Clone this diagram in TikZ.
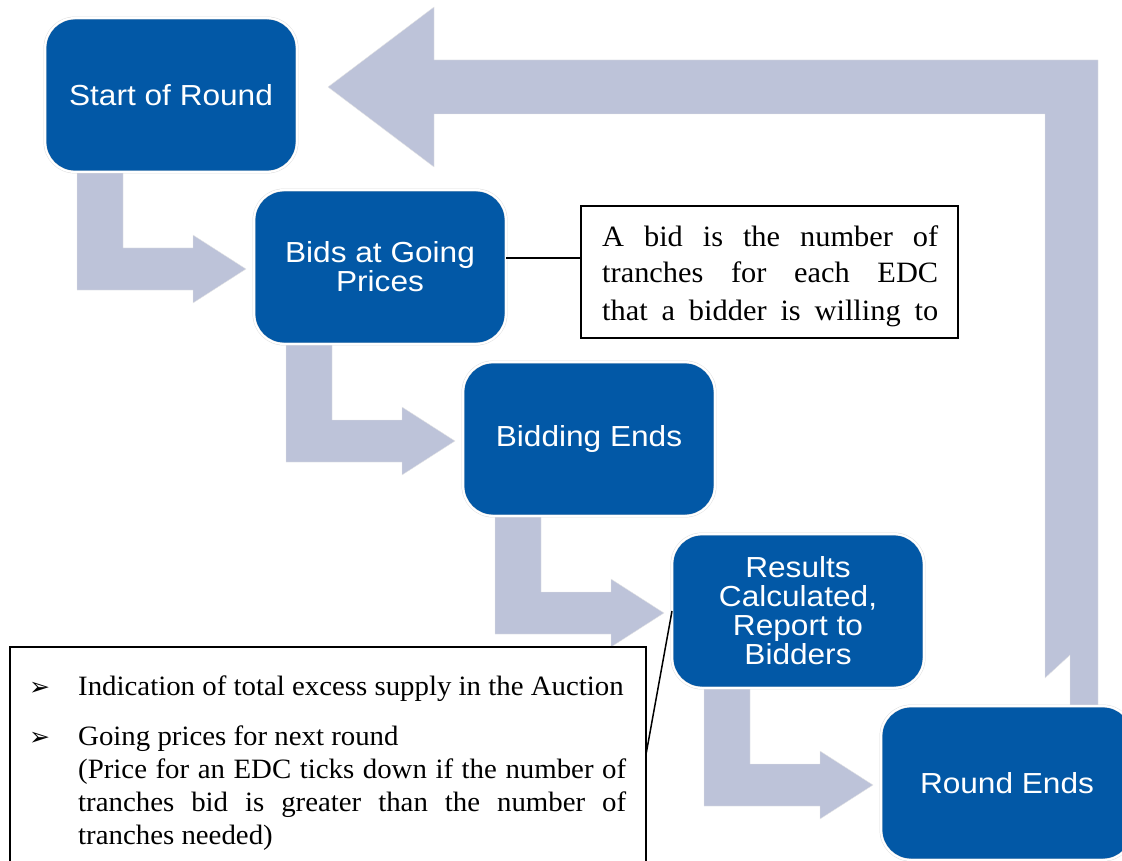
\documentclass[tikz,border=0pt]{standalone}
\usepackage{fontspec}
\setmainfont{Liberation Serif}[FakeStretch=1.03]
\newfontfamily\boxfont{Liberation Sans}[FakeStretch=1.09]
\newfontfamily\symfont{DejaVu Sans}
\usetikzlibrary{backgrounds}
\definecolor{stepblue}{RGB}{2,88,166}
\definecolor{flowgray}{RGB}{189,195,217}
\newcommand{\Bend}[1]{\fill[flowgray,draw=black!10,shift={(#1.south west)}] (32,-2) -- (32,118) -- (148,118) -- (148,131) -- (201,97) -- (148,63) -- (148,76) -- (78,76) -- (78,-2) -- cycle;}
\tikzset{
    stepbox/.style={rectangle,rounded corners=30pt,fill=stepblue,draw=black!15,double=white,double distance=2pt,
        minimum width=252pt,minimum height=154pt,inner sep=0pt,outer sep=0pt,text=white,align=center,
        font=\boxfont\fontsize{29}{29}\selectfont},
    notebox/.style={rectangle,draw=black,line width=1.5pt,inner sep=0pt,outer sep=0pt},
    noteline/.style={anchor=base west,inner sep=0pt,font=\fontsize{28}{33}\selectfont},
    connector/.style={draw=black,line width=1.5pt}
}

\begin{document}
\begin{tikzpicture}[x=1pt,y=-1pt]
    \useasboundingbox (0,0) rectangle (1122,861);

    \node[stepbox] (start) at (171,95) {Start of Round};
    \node[stepbox] (bids) at (380,267) {Bids at Going\\Prices};
    \node[stepbox] (bidend) at (589,439) {Bidding Ends};
    \node[stepbox] (results) at (798,611) {Results\\Calculated,\\Report to\\Bidders};
    \node[stepbox] (roundend) at (1007,783) {Round Ends};

    \begin{scope}[on background layer]
        \fill[flowgray,draw=black!10] (328,87) -- (434,7) -- (434,60) -- (1098,60) -- (1098,712) -- (1070,712)
            -- (1070,655) -- (1045,678) -- (1045,114) -- (434,114) -- (434,167) -- cycle;
        \Bend{start}
        \Bend{bids}
        \Bend{bidend}
        \Bend{results}
    \end{scope}

    \node[notebox,minimum width=377pt,minimum height=132pt] (bidnote) at (769.5,272) {};
    \draw[connector] ([yshift=9pt]bids.east) -- ([yshift=9pt]bids.east -| bidnote.west);
    \node[noteline,font=\fontsize{29.5}{36}\selectfont] (bidline1) at (602,247) {\makebox[336pt][s]{A bid is the number of}};
    \node[noteline,font=\fontsize{29.5}{36}\selectfont] (bidline2) at (602,283) {\makebox[336pt][s]{tranches for each EDC}};
    \node[noteline,font=\fontsize{29.5}{36}\selectfont] (bidline3) at (602,320) {\makebox[336pt][s]{that a bidder is willing to}};

    \node[notebox,minimum width=636pt,minimum height=215pt] (notes) at (328,754.5) {};
    \draw[connector] (results.west) -- (notes.east);
    \node[noteline,font=\symfont\fontsize{25}{33}\selectfont] (bullet1) at (29,695) {➢};
    \node[noteline] (noteline1) at (78,695) {Indication of total excess supply in the Auction};
    \node[noteline,font=\symfont\fontsize{25}{33}\selectfont] (bullet2) at (29,745) {➢};
    \node[noteline] (noteline2) at (78,745) {Going prices for next round};
    \node[noteline] (noteline3) at (78,778) {\makebox[548pt][s]{(Price for an EDC ticks down if the number of}};
    \node[noteline] (noteline4) at (78,811) {\makebox[548pt][s]{tranches bid is greater than the number of}};
    \node[noteline] (noteline5) at (78,844) {tranches needed)};
\end{tikzpicture}
\end{document}
